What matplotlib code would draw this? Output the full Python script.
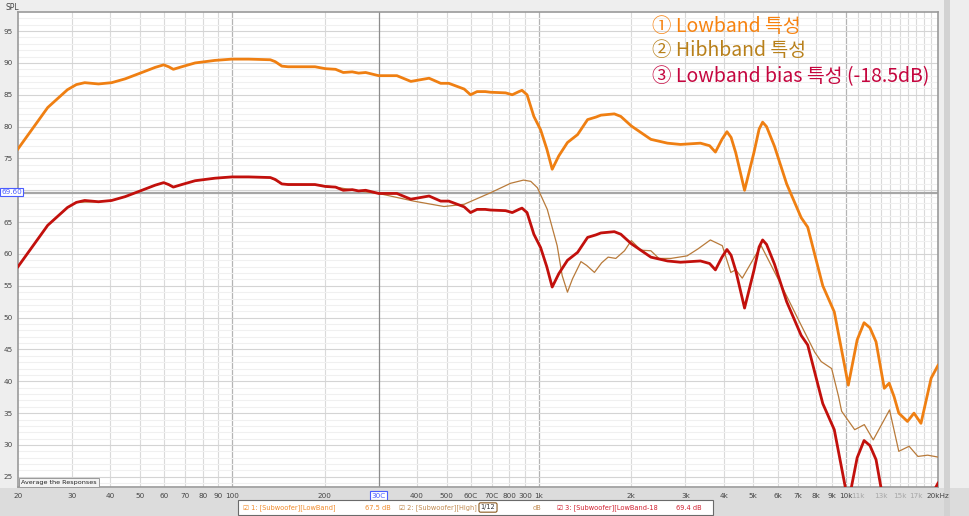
import matplotlib
matplotlib.use("Agg")
import matplotlib.pyplot as plt
from matplotlib.patches import Rectangle

# ---- data ----
low_freq = [20, 25, 29, 31, 33, 36.6, 40.4, 44.7, 50.7, 56, 59.7, 62, 64.2, 68.4,
            75.6, 87.8, 99.7, 113, 133, 138, 145, 152, 186, 201, 217, 230, 246,
            258, 272, 300, 344, 382, 438, 478, 508, 570, 598, 628, 668, 694, 778,
            818, 860, 880, 914, 962, 1012, 1060, 1104, 1160, 1238, 1336, 1440,
            1534, 1592, 1760, 1848, 2000, 2316, 2624, 2892, 3360, 3600, 3760,
            3950, 4100, 4230, 4380, 4680, 5020, 5220, 5360, 5520, 5860, 6420,
            7160, 7520, 8420, 9180, 10200, 10900, 11480, 12000, 12560, 13360,
            13860, 14380, 14900, 15900, 16700, 17600, 19000, 20000]
low_db = [76.5, 83.0, 85.8, 86.6, 86.9, 86.7, 86.9, 87.5, 88.5, 89.3, 89.7, 89.4,
          89.0, 89.4, 90.0, 90.4, 90.6, 90.6, 90.5, 90.2, 89.5, 89.4, 89.4, 89.1,
          89.0, 88.5, 88.6, 88.4, 88.5, 88.0, 88.0, 87.1, 87.6, 86.8, 86.8, 85.9,
          85.0, 85.5, 85.5, 85.4, 85.3, 85.0, 85.5, 85.7, 85.0, 81.6, 79.5, 76.5,
          73.3, 75.4, 77.5, 78.75, 81.1, 81.5, 81.8, 82.0, 81.6, 80.1, 78.0, 77.4,
          77.2, 77.4, 77.0, 76.0, 78.0, 79.2, 78.3, 75.9, 70.0, 75.9, 79.6, 80.7,
          80.0, 76.9, 71.0, 65.7, 64.2, 55.0, 50.9, 39.4, 46.5, 49.2, 48.4, 46.2,
          38.9, 39.7, 37.6, 35.0, 33.7, 35.0, 33.4, 40.5, 42.5]

high_freq = [20, 25, 29, 31, 36.6, 40.4, 44.7, 50.7, 56, 59.7, 64.2, 68.4, 75.6,
             87.8, 99.7, 133, 145, 186, 217, 258, 300, 390, 490, 570, 694, 808,
             890, 940, 988, 1064, 1146, 1190, 1238, 1286, 1370, 1430, 1516, 1600,
             1680, 1780, 1900, 2000, 2148, 2316, 2460, 2692, 3040, 3300, 3620,
             3960, 4220, 4380, 4600, 5300, 6180, 7160, 7920, 8320, 9000, 9480,
             9700, 10700, 11500, 12300, 13900, 14900, 16100, 17200, 18500, 20000]
high_db = [58.0, 64.5, 67.3, 68.1, 68.2, 68.4, 69.0, 70.0, 70.8, 71.2, 70.5, 70.9,
           71.5, 71.9, 72.1, 72.0, 71.0, 70.9, 70.5, 69.9, 69.5, 68.3, 67.45, 67.8,
           69.6, 71.1, 71.6, 71.4, 70.4, 67.0, 61.3, 56.6, 54.0, 56.1, 58.8, 58.2,
           57.1, 58.6, 59.5, 59.3, 60.5, 62.1, 60.6, 60.5, 59.3, 59.3, 59.7, 60.8,
           62.2, 61.3, 57.1, 57.5, 56.2, 61.3, 55.0, 48.8, 44.6, 43.1, 42.0, 37.6,
           35.3, 32.4, 33.2, 30.8, 35.5, 29.0, 29.8, 28.2, 28.4, 28.1]

bias_db = -18.5   # "Lowband bias (-18.5dB)"
bias_curve = [v + bias_db for v in low_db]

cursor_freq = 300
cursor_spl = 69.60

x_ticks = [20, 30, 40, 50, 60, 70, 80, 90, 100, 200, 300, 400, 500, 600, 700,
           800, 900, 1000, 2000, 3000, 4000, 5000, 6000, 7000, 8000, 9000,
           10000, 11000, 13000, 15000, 17000, 20000]
x_labels = ["20", "30", "40", "50", "60", "70", "80", "90", "100", "200", "30C",
            "400", "500", "60C", "70C", "800", "300", "1k", "2k", "3k", "4k", "5k",
            "6k", "7k", "8k", "9k", "10k", "11k", "13k", "15k", "17k", "20kHz"]
y_ticks = [25, 30, 35, 40, 45, 50, 55, 60, 65, 75, 80, 85, 90, 95]

notes = ["\u2460 Lowband 특성", "\u2461 Hibhband 특성", "\u2462 Lowband bias 특성 (-18.5dB)"]
note_colors = ["#f7820f", "#b8801a", "#c5063f"]

# ---- figure ----
fig = plt.figure(figsize=(9.69, 5.16), dpi=100, facecolor="#eeeeee")
W, H = 969, 516
ax = fig.add_axes([18 / W, 1 - 487 / H, 920 / W, 475 / H])
ax.set_facecolor("white")
ax.set_xscale("log")
ax.set_xlim(20, 20000)
ax.set_ylim(23.4, 98)

# grid
for f in [30, 40, 50, 60, 70, 80, 90, 200, 400, 500, 600, 700, 800, 900,
          2000, 3000, 4000, 5000, 6000, 7000, 8000, 9000, 11000, 12000, 13000,
          14000, 15000, 16000, 17000, 18000, 19000]:
    ax.axvline(f, color="#dadada", lw=0.8, zorder=0)
for f in [100, 1000, 10000]:
    ax.axvline(f, color="#b4b4b4", lw=0.9, zorder=0)
for v in range(24, 98):
    c = "#d4d4d4" if v % 5 == 0 else "#f0f0f0"
    ax.axhline(v, color=c, lw=0.8, zorder=0)
ax.axvline(cursor_freq, color="#8c8c8c", lw=0.9, zorder=1)
ax.axhline(cursor_spl, color="#a6a6a6", lw=1.6, zorder=1)

ax.plot(high_freq, high_db, color="#b87a3a", lw=0.9, zorder=3)
ax.plot(low_freq, low_db, color="#ef7f12", lw=2.0, zorder=4, solid_joinstyle="round")
ax.plot(low_freq, bias_curve, color="#c2100c", lw=2.0, zorder=5, solid_joinstyle="round")

for s in ax.spines.values():
    s.set_color("#9a9a9a")
    s.set_linewidth(1.2)

ax.set_xticks(x_ticks)
ax.set_xticklabels(x_labels)
ax.xaxis.set_minor_locator(matplotlib.ticker.NullLocator())
ax.set_yticks(y_ticks)
ax.tick_params(length=0, labelsize=5.2, labelcolor="#454545", pad=4)
for lab, t in zip(ax.get_xticklabels(), x_ticks):
    if t in (11000, 13000, 15000, 17000):
        lab.set_color("#a8a8a8")
    if t == cursor_freq:
        lab.set_bbox(dict(boxstyle="square,pad=0.15", fc="white", ec="#4a5cff", lw=0.8))
        lab.set_color("#4a5cff")

# cursor SPL box on y axis
fig.text(1.5 / W, 1 - 192 / H, "69.60", fontsize=5.2, color="#4a5cff", va="center",
         ha="left", bbox=dict(boxstyle="square,pad=0.15", fc="white", ec="#4a5cff", lw=0.8))
fig.text(5 / W, 1 - 7 / H, "SPL", fontsize=5.5, color="#454545", va="center", ha="left")

# bottom strip, right strip & legend box
fig.patches.append(Rectangle((0, 0), 1, 1 - 488 / H, transform=fig.transFigure,
                             fc="#dcdcdc", ec="none", zorder=-1))
fig.patches.append(Rectangle((944 / W, 0), 6 / W, 1, transform=fig.transFigure,
                             fc="#d2d2d2", ec="none", zorder=-1))
fig.patches.append(Rectangle((238 / W, 1 - 515 / H), 475 / W, 15 / H,
                             transform=fig.transFigure, fc="white", ec="#6a6a6a",
                             lw=0.8, zorder=2))
ly = 1 - 507.5 / H
legend_items = [
    (243, "\u2611 1: [Subwoofer][LowBand]", "#f08a2a"),
    (365, "67.5 dB", "#f08a2a"),
    (399, "\u2611 2: [Subwoofer][High]", "#c08a50"),
    (533, "dB", "#c08a50"),
    (557, "\u2611 3: [Subwoofer][LowBand-18", "#d02030"),
    (676, "69.4 dB", "#d02030"),
]
for xp, txt, c in legend_items:
    fig.text(xp / W, ly, txt, fontsize=4.8, color=c, va="center", ha="left")
fig.lines.append(plt.Line2D([319 / W, 343 / W], [ly, ly], transform=fig.transFigure,
                            color="#ef7f12", lw=1.5))
fig.lines.append(plt.Line2D([634 / W, 658 / W], [ly, ly], transform=fig.transFigure,
                            color="#c2100c", lw=1.5))
fig.lines.append(plt.Line2D([476 / W, 500 / W], [ly, ly], transform=fig.transFigure,
                            color="#b87a3a", lw=0.9))
fig.text(488 / W, ly, "1/12", fontsize=4.8, color="#333333", va="center", ha="center",
         bbox=dict(boxstyle="round,pad=0.25", fc="white", ec="#8a5a20", lw=0.8))

# "Average the Responses" button
fig.text(21 / W, 1 - 482.5 / H, "Average the Responses", fontsize=4.6, color="#222222",
         va="center", ha="left",
         bbox=dict(boxstyle="square,pad=0.35", fc="#f2f2f2", ec="#9a9a9a", lw=0.7))

# annotation text
for i, (txt, c) in enumerate(zip(notes, note_colors)):
    ax.text(652 / W, 1 - [27, 51, 77][i] / H, txt, transform=fig.transFigure,
            fontsize=14, color=c, va="center", ha="left",
            family=["Noto Sans CJK KR", "DejaVu Sans"], zorder=6)

fig.savefig("out.png", dpi=100, facecolor=fig.get_facecolor())
